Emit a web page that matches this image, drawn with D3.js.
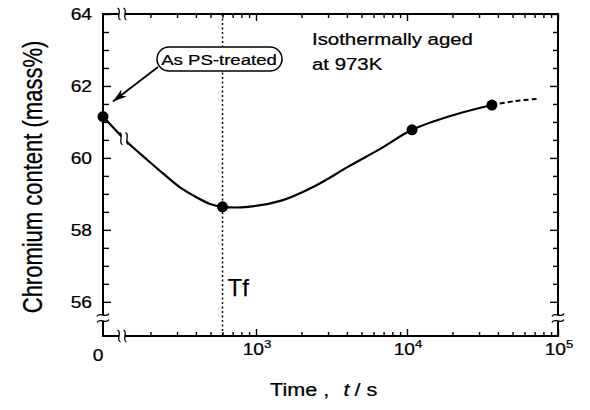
<!DOCTYPE html>
<html>
<head>
<meta charset="utf-8">
<script src="https://cdn.jsdelivr.net/npm/d3@7"></script>
<style>
  body { margin: 0; background: #fff; }
  text { font-family: "Liberation Sans", Arial, Helvetica, sans-serif; fill: #000; stroke: #000; stroke-width: 0.25; }
</style>
</head>
<body>
<div id="chart"></div>
<script>
// chromium content vs ageing time (log axis with a break at 0)
var markerTimes = [0, 600, 10800, 36500];
var markerCr = [61.15, 58.64, 60.78, 61.47];

// fitted curve
var curveTimes = [0, 142, 190, 242, 314, 406, 496, 600, 886, 1490, 2460, 4060, 6820, 10800, 19900, 36500];
var curveCr = [61.15, 60.42, 59.95, 59.57, 59.18, 58.90, 58.72, 58.64, 58.64, 58.82, 59.22, 59.75, 60.28, 60.78, 61.18, 61.47];

// dashed extrapolation
var dashTimes = [36500, 51900, 72600];
var dashCr = [61.47, 61.58, 61.64];

var yMajor = [56, 58, 60, 62, 64];
var xMajor = [1e3, 1e4, 1e5];
var xMajorExp = ["3", "4", "5"];
var tfTime = 600;

var margin = {top: 14, right: 32, bottom: 74, left: 103},
    width = 590 - margin.left - margin.right,
    height = 410 - margin.top - margin.bottom;

var svg = d3.select("#chart")
  .append("svg")
    .attr("width", 590)
    .attr("height", 410)
  .append("g")
    .attr("transform", "translate(" + margin.left + "," + margin.top + ")");

var y = d3.scaleLinear().domain([55.05, 64]).range([height, 0]);
var x = d3.scaleLog().domain([1e3, 1e5]).range([153, width]);
function xPos(t) { return t === 0 ? 0 : x(t); }

var xBreak = 19;            // where the time axis jumps from 0 to the log part
var yBreak = y(55.55);

// minor tick values
var xMinor = [];
[100, 1000, 10000].forEach(function(d) {
  for (var k = 2; k <= 9; k++) xMinor.push(d * k);
});
var yMinor = d3.range(56, 64.01, 0.5).filter(function(v) { return v % 2 !== 0; });

// ticks via d3 axes (inward)
function ticks(axis, tr) {
  var g = svg.append("g").attr("transform", tr).call(axis);
  g.select(".domain").remove();
  g.selectAll("line").attr("stroke", "#000").attr("stroke-width", 1.4);
}
ticks(d3.axisBottom(x).tickValues(xMinor).tickSize(-4).tickFormat(""), "translate(0," + height + ")");
ticks(d3.axisBottom(x).tickValues(xMajor).tickSize(-7).tickFormat(""), "translate(0," + height + ")");
ticks(d3.axisTop(x).tickValues(xMinor).tickSize(-4).tickFormat(""), "translate(0,0)");
ticks(d3.axisTop(x).tickValues(xMajor).tickSize(-7).tickFormat(""), "translate(0,0)");
ticks(d3.axisLeft(y).tickValues(yMinor).tickSize(-6).tickFormat(""), "translate(0,0)");
ticks(d3.axisLeft(y).tickValues(yMajor).tickSize(-8).tickFormat(""), "translate(0,0)");
ticks(d3.axisRight(y).tickValues(yMinor).tickSize(-5).tickFormat(""), "translate(" + width + ",0)");
ticks(d3.axisRight(y).tickValues(yMajor).tickSize(-8).tickFormat(""), "translate(" + width + ",0)");

// frame
svg.append("rect")
  .attr("width", width).attr("height", height)
  .attr("fill", "none").attr("stroke", "#000").attr("stroke-width", 2);

// Tf dotted line
svg.append("line")
  .attr("x1", x(tfTime)).attr("x2", x(tfTime))
  .attr("y1", 0).attr("y2", height)
  .attr("stroke", "#000").attr("stroke-width", 1.5)
  .attr("stroke-dasharray", "2,2.5");

svg.append("text")
  .attr("x", x(tfTime) + 5).attr("y", 282)
  .style("font-size", "24px")
  .text("Tf");

// curve
var curveData = curveTimes.map(function(t, i) { return {t: t, v: curveCr[i]}; });
var dashData = dashTimes.map(function(t, i) { return {t: t, v: dashCr[i]}; });
var line = d3.line()
  .x(function(d) { return xPos(d.t); })
  .y(function(d) { return y(d.v); })
  .curve(d3.curveCatmullRom.alpha(0.5));

svg.append("path").datum(curveData)
  .attr("d", line).attr("fill", "none")
  .attr("stroke", "#000").attr("stroke-width", 2.2);

svg.append("path").datum(dashData)
  .attr("d", line).attr("fill", "none")
  .attr("stroke", "#000").attr("stroke-width", 2)
  .attr("stroke-dasharray", "5,3");

// break marks
function vSquig(cx, cy) {
  return "M" + (cx - 1.5) + "," + (cy - 6) + " C" + (cx + 3.5) + "," + (cy - 4) + " " +
    (cx - 3.5) + "," + (cy + 4) + " " + (cx + 1.5) + "," + (cy + 6);
}
function hSquig(cx, cy) {
  return "M" + (cx - 6) + "," + (cy + 1.5) + " C" + (cx - 4) + "," + (cy - 3.5) + " " +
    (cx + 4) + "," + (cy + 3.5) + " " + (cx + 6) + "," + (cy - 1.5);
}
var brk = svg.append("g");
function xGap(cx, cy, h) {
  brk.append("rect").attr("x", cx - 3).attr("y", cy - h).attr("width", 6).attr("height", 2 * h).attr("fill", "#fff");
  brk.append("path").attr("d", vSquig(cx - 3, cy)).attr("fill", "none").attr("stroke", "#000").attr("stroke-width", 1.3);
  brk.append("path").attr("d", vSquig(cx + 3, cy)).attr("fill", "none").attr("stroke", "#000").attr("stroke-width", 1.3);
}
function yGap(cx, cy) {
  brk.append("rect").attr("x", cx - 5).attr("y", cy - 3).attr("width", 10).attr("height", 6).attr("fill", "#fff");
  brk.append("path").attr("d", hSquig(cx, cy - 3)).attr("fill", "none").attr("stroke", "#000").attr("stroke-width", 1.3);
  brk.append("path").attr("d", hSquig(cx, cy + 3)).attr("fill", "none").attr("stroke", "#000").attr("stroke-width", 1.3);
}
xGap(xBreak, height, 2);
xGap(xBreak, 0, 2);
yGap(0, yBreak);
yGap(width, yBreak);
// break in the curve between the 0 point and the log part
var p0 = curveData[0], p1 = curveData[1];
var cgx = xBreak + 2;
var cgy = y(p0.v) + (y(p1.v) - y(p0.v)) * (cgx - xPos(p0.t)) / (xPos(p1.t) - xPos(p0.t));
xGap(cgx, cgy, 12);

// markers
svg.selectAll("circle.pt")
  .data(markerTimes)
  .enter()
  .append("circle")
    .attr("class", "pt")
    .attr("cx", function(d) { return xPos(d); })
    .attr("cy", function(d, i) { return y(markerCr[i]); })
    .attr("r", 5.5)
    .attr("fill", "#000");

// tick labels
var sx = 1.2;
yMajor.forEach(function(v) {
  svg.append("text")
    .attr("transform", "translate(-11," + (y(v) + 6) + ") scale(" + sx + ",1)")
    .attr("text-anchor", "end")
    .style("font-size", "16px")
    .text(v);
});
svg.append("text")
  .attr("transform", "translate(" + (xPos(0) - 5) + ",347) scale(" + sx + ",1)")
  .attr("text-anchor", "middle")
  .style("font-size", "16px")
  .text("0");
xMajor.forEach(function(v, i) {
  var t = svg.append("text")
    .attr("transform", "translate(" + (x(v) + 1) + ",341) scale(" + sx + ",1)")
    .attr("text-anchor", "middle")
    .style("font-size", "16px");
  t.append("tspan").text("10");
  t.append("tspan").attr("dy", -7).style("font-size", "11px").text(xMajorExp[i]);
});

// axis titles
var xt = svg.append("text")
  .attr("transform", "translate(" + (270 - margin.left) + "," + (396 - margin.top) + ") scale(" + sx + ",1)")
  .style("font-size", "18px");
xt.append("tspan").text("Time ,");
xt.append("tspan").attr("dx", 12).style("font-style", "italic").text("t");
xt.append("tspan").attr("dx", 4).text("/ s");

svg.append("text")
  .attr("transform", "translate(" + (42 - margin.left) + "," + (177 - margin.top) + ") scale(1.25,1) rotate(-90)")
  .attr("text-anchor", "middle")
  .style("font-size", "22px")
  .text("Chromium content (mass%)");

// annotations
svg.append("text")
  .attr("transform", "translate(" + (312 - margin.left) + "," + (45 - margin.top) + ") scale(" + sx + ",1)")
  .style("font-size", "17px")
  .text("Isothermally aged");
svg.append("text")
  .attr("transform", "translate(" + (312 - margin.left) + "," + (70 - margin.top) + ") scale(" + sx + ",1)")
  .style("font-size", "17px")
  .text("at 973K");

svg.append("rect")
  .attr("x", 157 - margin.left).attr("y", 47 - margin.top)
  .attr("width", 125).attr("height", 24)
  .attr("rx", 12).attr("ry", 12)
  .attr("fill", "#fff").attr("stroke", "#000").attr("stroke-width", 1.5);
svg.append("text")
  .attr("transform", "translate(" + (219 - margin.left) + "," + (65 - margin.top) + ") scale(" + sx + ",1)")
  .attr("text-anchor", "middle")
  .style("font-size", "15.5px")
  .text("As PS-treated");

svg.append("defs").append("marker")
  .attr("id", "head")
  .attr("markerUnits", "userSpaceOnUse")
  .attr("viewBox", "-14 -5 15 10")
  .attr("refX", 0).attr("refY", 0)
  .attr("markerWidth", 15).attr("markerHeight", 10)
  .attr("orient", "auto")
  .append("path")
    .attr("d", "M0,0 L-14,-4.5 L-10,0 L-14,4.5 Z")
    .attr("fill", "#000");

svg.append("line")
  .attr("x1", 158 - margin.left).attr("y1", 67 - margin.top)
  .attr("x2", xPos(0) + 10).attr("y2", y(markerCr[0]) - 15)
  .attr("stroke", "#000").attr("stroke-width", 1.8)
  .attr("marker-end", "url(#head)");
</script>
</body>
</html>
